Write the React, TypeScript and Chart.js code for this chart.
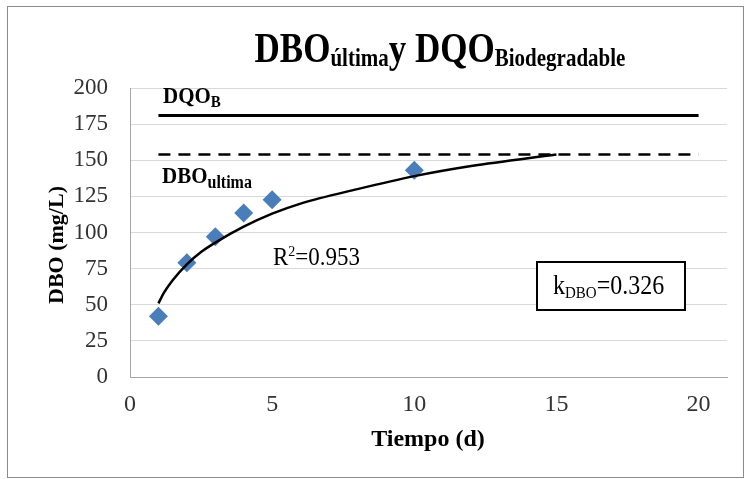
import React, { useEffect, useRef } from "react";
import { Chart, registerables } from "chart.js";

Chart.register(...registerables);

const xTicks = [0, 5, 10, 15, 20];
const yTicks = [0, 25, 50, 75, 100, 125, 150, 175, 200];

const tiempo = [1, 2, 3, 4, 5, 10];
const dbo = [42, 79, 97, 113.5, 122.6, 143];

const curveX = [1, 1.2, 1.5, 2, 2.5, 3, 4, 5, 6, 8, 10, 12, 15];
const curveY = [51, 58.5, 67, 78, 86.5, 93, 104, 113, 120, 130, 139, 146, 154];

const dqoX = [1, 20];
const dqoY = [181, 181];
const dboUltX = [1, 20];
const dboUltY = [154, 154];

const SERIF = "'Liberation Serif', 'Times New Roman', serif";

type Part = { t: string; size: number; bold?: boolean; dy?: number };

function drawRich(
  ctx: CanvasRenderingContext2D,
  parts: Part[],
  x: number,
  y: number,
  align: "left" | "center",
  sy = 1
) {
  ctx.save();
  ctx.textBaseline = "alphabetic";
  ctx.textAlign = "left";
  let total = 0;
  const widths = parts.map((p) => {
    ctx.font = `${p.bold ? "bold " : ""}${p.size}px ${SERIF}`;
    const w = ctx.measureText(p.t).width;
    total += w;
    return w;
  });
  let cx = align === "center" ? x - total / 2 : x;
  ctx.translate(0, y);
  ctx.scale(1, sy);
  parts.forEach((p, i) => {
    ctx.font = `${p.bold ? "bold " : ""}${p.size}px ${SERIF}`;
    ctx.fillText(p.t, cx, (p.dy || 0) / sy);
    cx += widths[i];
  });
  ctx.restore();
}

const decorPlugin = {
  id: "decor",
  afterDraw(chart: any) {
    const ctx = chart.ctx as CanvasRenderingContext2D;
    ctx.save();
    ctx.fillStyle = "#000";
    // frame
    ctx.strokeStyle = "#8c8c8c";
    ctx.lineWidth = 1;
    ctx.strokeRect(7.5, 6.5, 736, 471);
    // title
    drawRich(
      ctx,
      [
        { t: "DBO", size: 35, bold: true },
        { t: "última", size: 21, bold: true, dy: 4 },
        { t: "y DQO", size: 35, bold: true },
        { t: "Biodegradable", size: 21, bold: true, dy: 4 },
      ],
      440,
      62,
      "center",
      1.22
    );
    // annotations
    drawRich(ctx, [{ t: "DQO", size: 21, bold: true }, { t: "B", size: 15, bold: true, dy: 4 }], 163, 103, "left", 1.12);
    drawRich(ctx, [{ t: "DBO", size: 21, bold: true }, { t: "ultima", size: 16, bold: true, dy: 5 }], 162, 183, "left", 1.12);
    drawRich(
      ctx,
      [{ t: "R", size: 23 }, { t: "2", size: 14, dy: -9 }, { t: "=0.953", size: 23 }],
      273,
      265,
      "left",
      1.1
    );
    // k box
    ctx.fillStyle = "#fff";
    ctx.fillRect(537, 262, 148, 48);
    ctx.strokeStyle = "#000";
    ctx.lineWidth = 2;
    ctx.strokeRect(537, 262, 148, 48);
    ctx.fillStyle = "#000";
    drawRich(
      ctx,
      [{ t: "k", size: 24 }, { t: "DBO", size: 15, dy: 4 }, { t: "=0.326", size: 24 }],
      553,
      294,
      "left",
      1.1
    );
    // axis titles
    ctx.font = `bold 24px ${SERIF}`;
    ctx.textAlign = "center";
    ctx.textBaseline = "middle";
    ctx.fillText("Tiempo (d)", 428, 440);
    ctx.font = `bold 22px ${SERIF}`;
    ctx.translate(57, 245);
    ctx.rotate(-Math.PI / 2);
    ctx.fillText("DBO (mg/L)", 0, 0);
    ctx.restore();
  },
};

export default function App() {
  const ref = useRef<HTMLCanvasElement>(null);
  useEffect(() => {
    if (!ref.current) return;
    const chart = new Chart(ref.current, {
      type: "scatter",
      data: {
        datasets: [
          {
            label: "ajuste",
            data: curveX.map((x, i) => ({ x, y: curveY[i] })),
            showLine: true,
            borderColor: "#000",
            borderWidth: 2.5,
            pointRadius: 0,
            cubicInterpolationMode: "monotone",
          } as any,
          {
            label: "DQO_B",
            data: dqoX.map((x, i) => ({ x, y: dqoY[i] })),
            showLine: true,
            borderColor: "#000",
            borderWidth: 3,
            pointRadius: 0,
          },
          {
            label: "DBO_ultima",
            data: dboUltX.map((x, i) => ({ x, y: dboUltY[i] })),
            showLine: true,
            borderColor: "#000",
            borderWidth: 2.5,
            borderDash: [12, 8],
            pointRadius: 0,
          },
          {
            label: "DBO",
            data: tiempo.map((x, i) => ({ x, y: dbo[i] })),
            showLine: false,
            pointStyle: "rectRot",
            pointRadius: 9.5,
            backgroundColor: "#4a7ebb",
            borderColor: "#4a7ebb",
            borderWidth: 0,
          },
        ],
      },
      options: {
        animation: false,
        responsive: false,
        events: [],
        layout: { padding: { left: 0, right: 22, top: 88, bottom: 0 } },
        plugins: { legend: { display: false }, tooltip: { enabled: false }, title: { display: false } },
        scales: {
          x: {
            type: "linear",
            min: 0,
            max: 21,
            afterBuildTicks: (s: any) => {
              s.ticks = xTicks.map((v) => ({ value: v }));
            },
            afterFit: (s: any) => {
              s.height = 102;
            },
            grid: { display: false, drawTicks: false },
            border: { display: true, color: "#a6a6a6", width: 1 },
            ticks: { padding: 13, color: "#333", font: { family: SERIF, size: 24 } },
          },
          y: {
            min: 0,
            max: 200,
            afterBuildTicks: (s: any) => {
              s.ticks = yTicks.map((v) => ({ value: v }));
            },
            afterFit: (s: any) => {
              s.width = 130;
            },
            grid: { color: "#d9d9d9", drawTicks: false, lineWidth: 1 },
            border: { display: true, color: "#a6a6a6", width: 1 },
            ticks: { padding: 22, color: "#333", font: { family: SERIF, size: 23 } },
          },
        },
      },
      plugins: [decorPlugin],
    });
    return () => chart.destroy();
  }, []);
  return (
    <div style={{ position: "absolute", left: 0, top: 0, width: 749, height: 479, background: "#fff" }}>
      <canvas ref={ref} width={749} height={479} style={{ width: 749, height: 479 }} />
    </div>
  );
}
